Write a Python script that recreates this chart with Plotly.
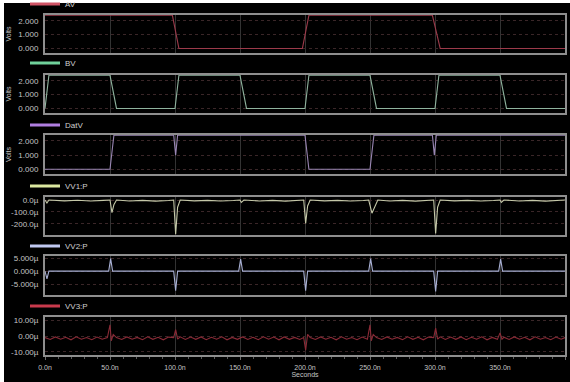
import plotly.graph_objects as go

# ---------------- data ----------------
av_t = [0, 98, 103, 198, 203, 298, 304, 400]
av_v = [2.4, 2.4, 0.0, 0.0, 2.4, 2.4, 0.0, 0.0]

bv_t = [0, 3, 50, 55, 100, 103, 150, 155, 200, 203, 250, 255, 300, 303, 350, 355, 400]
bv_v = [0.0, 2.4, 2.4, 0.0, 0.0, 2.4, 2.4, 0.0, 0.0, 2.4, 2.4, 0.0, 0.0, 2.4, 2.4, 0.0, 0.0]

dat_t = [0, 50, 53, 99, 100.5, 102, 200, 203, 250, 253, 298, 299.5, 301, 400]
dat_v = [0.0, 0.0, 2.4, 2.4, 1.0, 2.4, 2.4, 0.0, 0.0, 2.4, 2.4, 1.0, 2.4, 2.4]

vv1_t = [0, 1.5, 3, 15, 25, 35, 45, 50, 51.5, 53, 55, 65, 75, 85, 95, 99, 100.5, 102, 104,
         115, 125, 135, 145, 150, 151, 153, 165, 175, 185, 195, 199, 200.5, 202, 204,
         215, 225, 235, 245, 249, 251.5, 254, 256, 265, 275, 285, 295, 299, 300.5, 302, 304,
         315, 325, 335, 345, 350, 351, 353, 365, 375, 385, 400]
vv1_v = [0, -25, 0, -7, -2, -8, -3, 0, -105, -40, 0, -8, -3, -9, -4, 0, -285, -60, 0,
         -7, -3, -8, -4, 0, -20, 0, -8, -3, -9, -4, 0, -195, -50, 0,
         -7, -3, -8, -4, 0, -110, -40, 0, -8, -3, -9, -4, 0, -280, -60, 0,
         -7, -3, -8, -4, 0, -20, 0, -8, -3, -9, 0]

vv2_t = [0, 1.5, 3, 49, 50.5, 52, 99, 100.5, 102, 149, 150.5, 152, 199, 200.5, 202,
         249, 250.5, 252, 299, 300.5, 302, 349, 350.5, 352, 400]
vv2_v = [0, -3, 0, 0, 4.8, 0, 0, -7.5, 0, 0, 4.6, 0, 0, -7.5, 0,
         0, 4.8, 0, 0, -7.8, 0, 0, 4.6, 0, 0]

vv3_t = [0, 4, 8, 12, 16, 20, 24, 28, 32, 36, 40, 44, 48, 50, 51, 52.5, 55,
         59, 63, 67, 71, 75, 79, 83, 87, 91, 95, 99, 100.5, 102, 104,
         108, 112, 116, 120, 124, 128, 132, 136, 140, 144, 148, 152, 156, 160, 164,
         168, 172, 176, 180, 184, 188, 192, 196, 199, 200.5, 202, 204,
         208, 212, 216, 220, 224, 228, 232, 236, 240, 244, 248, 250, 251, 252.5, 255,
         259, 263, 267, 271, 275, 279, 283, 287, 291, 295, 299, 300.5, 302, 304,
         308, 312, 316, 320, 324, 328, 332, 336, 340, 344, 348, 350, 351.5, 353,
         357, 361, 365, 369, 373, 377, 381, 385, 389, 393, 397, 400]
vv3_v = [-1, -2.2, -0.6, -2, -0.8, -2.4, -0.5, -2, -1, -2.3, -0.7, -2, -1, 7, -3, 1, -1,
         -2.2, -0.6, -2, -0.9, -2.3, -0.5, -2.1, -0.8, -2.4, -0.7, -1, 4, -2, -0.5,
         -2.2, -0.7, -2.1, -0.6, -2.3, -0.8, -2, -0.5, -2.4, -0.9, -2.1, -0.6, -2.2, -0.8, -2.3,
         -0.5, -2, -0.7, -2.4, -0.6, -2.1, -0.9, -2.2, -1, -9, 1, -1,
         -2.2, -0.6, -2, -0.8, -2.4, -0.5, -2, -1, -2.3, -0.7, -2, 7, -3, 1, -1,
         -2.2, -0.6, -2, -0.9, -2.3, -0.5, -2.1, -0.8, -2.4, -0.7, -1, 5, -2, -0.5,
         -2.2, -0.7, -2.1, -0.6, -2.3, -0.8, -2, -0.5, -2.4, -0.9, -2.1, 2, -2, -0.8,
         -2.2, -0.6, -2, -0.8, -2.4, -0.5, -2, -1, -2.3, -0.7, -2, -1]

series_names = ["AV", "BV", "DatV", "VV1:P", "VV2:P", "VV3:P"]
series_t = [av_t, bv_t, dat_t, vv1_t, vv2_t, vv3_t]
series_v = [av_v, bv_v, dat_v, vv1_v, vv2_v, vv3_v]
trace_colors = ["#9c3a4a", "#8fb39e", "#9a86b4", "#c4c8a8", "#a8b0d4", "#8a2a36"]
legend_colors = ["#d05466", "#6fd09a", "#b07ee0", "#dce8a0", "#c0c8f0", "#c83a4c"]

x_tickvals = [0, 50, 100, 150, 200, 250, 300, 350, 400]
x_ticktext = ["0.0n", "50.0n", "100.0n", "150.0n", "200.0n", "250.0n", "300.0n", "350.0n", "400.0n"]

y_tickvals = [[0, 1, 2], [0, 1, 2], [0, 1, 2], [-200, -100, 0], [-5, 0, 5], [-10, 0, 10]]
y_ticktext = [["0.000", "1.000", "2.000"], ["0.000", "1.000", "2.000"], ["0.000", "1.000", "2.000"],
              ["-200.0µ", "-100.0µ", "0.0µ"], ["-5.000µ", "0.000µ", "5.000µ"],
              ["-10.00µ", "0.00µ", "10.00µ"]]
y_ranges = [[-0.33, 2.42], [-0.33, 2.42], [-0.33, 2.42], [-292, 25], [-9.2, 5.8], [-12, 12]]
y_titles = ["Volts", "Volts", "Volts", "", "", ""]

# ---------------- layout constants (pixels) ----------------
W, H = 570, 382
panel_px = [(15, 53), (75, 113), (135, 174), (197, 235), (256, 295), (317, 355)]
legend_px = [4, 63, 125, 186, 246, 306]
x0_px, x1_px = 45, 565

def fx(p):
    return p / W

def fy(p):
    return 1 - p / H

fig = go.Figure()
layout = dict(
    width=W, height=H,
    margin=dict(l=0, r=0, t=0, b=0, autoexpand=False),
    paper_bgcolor="#000000",
    plot_bgcolor="#000000",
    font=dict(family="Liberation Sans, Arial, sans-serif", size=7, color="#c4c4c4"),
    showlegend=True,
)

for i in range(6):
    n = "" if i == 0 else str(i + 1)
    leg = "legend" if i == 0 else "legend" + str(i + 1)
    fig.add_trace(go.Scatter(
        x=series_t[i], y=series_v[i], mode="lines", name=series_names[i],
        line=dict(color=trace_colors[i], width=1.1),
        xaxis="x" + n, yaxis="y" + n, showlegend=False,
    ))
    fig.add_trace(go.Scatter(
        x=[None], y=[None], mode="lines", name=series_names[i],
        line=dict(color=legend_colors[i], width=3),
        xaxis="x" + n, yaxis="y" + n, legend=leg, showlegend=True, hoverinfo="skip",
    ))
    top, bot = panel_px[i]
    is_bottom = (i == 5)
    xa = dict(
        domain=[fx(x0_px), fx(x1_px)], anchor="y" + n, range=[0, 400],
        tickvals=x_tickvals, ticktext=x_ticktext,
        showticklabels=is_bottom,
        showgrid=True, gridcolor="#333333", gridwidth=1,
        showline=True, mirror=True, linecolor="#8e8e8e", linewidth=2,
        zeroline=False,
        ticks="outside" if is_bottom else "", ticklen=3, tickcolor="#6a6a6a",
        tickfont=dict(size=7, color="#c4c4c4"),
        title=dict(text="Seconds" if is_bottom else "", font=dict(size=7, color="#c4c4c4"), standoff=0),
    )
    if i != 0:
        xa["matches"] = "x"
    if is_bottom:
        xa["minor"] = dict(ticks="outside", ticklen=2, dtick=10, tickcolor="#5a5a5a", showgrid=False)
        xa["ticklabelstandoff"] = 2
    layout["xaxis" + n] = xa
    layout["yaxis" + n] = dict(
        domain=[fy(bot), fy(top)], anchor="x" + n, range=y_ranges[i],
        tickvals=y_tickvals[i], ticktext=y_ticktext[i],
        showgrid=True, gridcolor="#3a2628", griddash="dot", gridwidth=1,
        showline=True, mirror=True, linecolor="#8e8e8e", linewidth=2,
        zeroline=False, ticks="", ticklabelstandoff=3,
        tickfont=dict(size=8, color="#c4c4c4"),
        title=dict(text=y_titles[i], font=dict(size=7, color="#c4c4c4"), standoff=6),
    )
    layout[leg] = dict(
        x=fx(25), xanchor="left", y=fy(legend_px[i]), yanchor="middle",
        bgcolor="rgba(0,0,0,0)", borderwidth=0,
        font=dict(size=8, color="#cfcfcf"), itemwidth=30,
    )

# white strips at the left and top edges of the picture
layout["shapes"] = [
    dict(type="rect", xref="paper", yref="paper", x0=0, x1=4 / W, y0=0, y1=1,
         fillcolor="#ffffff", line=dict(width=0), layer="above"),
    dict(type="rect", xref="paper", yref="paper", x0=0, x1=1, y0=1 - 3 / H, y1=1,
         fillcolor="#ffffff", line=dict(width=0), layer="above"),
]

fig.update_layout(**layout)
fig.write_html(
    "out.html",
    config=dict(displayModeBar=False),
    post_script="document.body.style.margin='0';document.body.style.overflow='hidden';"
                "document.documentElement.style.overflow='hidden';window.scrollTo(0,0);",
)
